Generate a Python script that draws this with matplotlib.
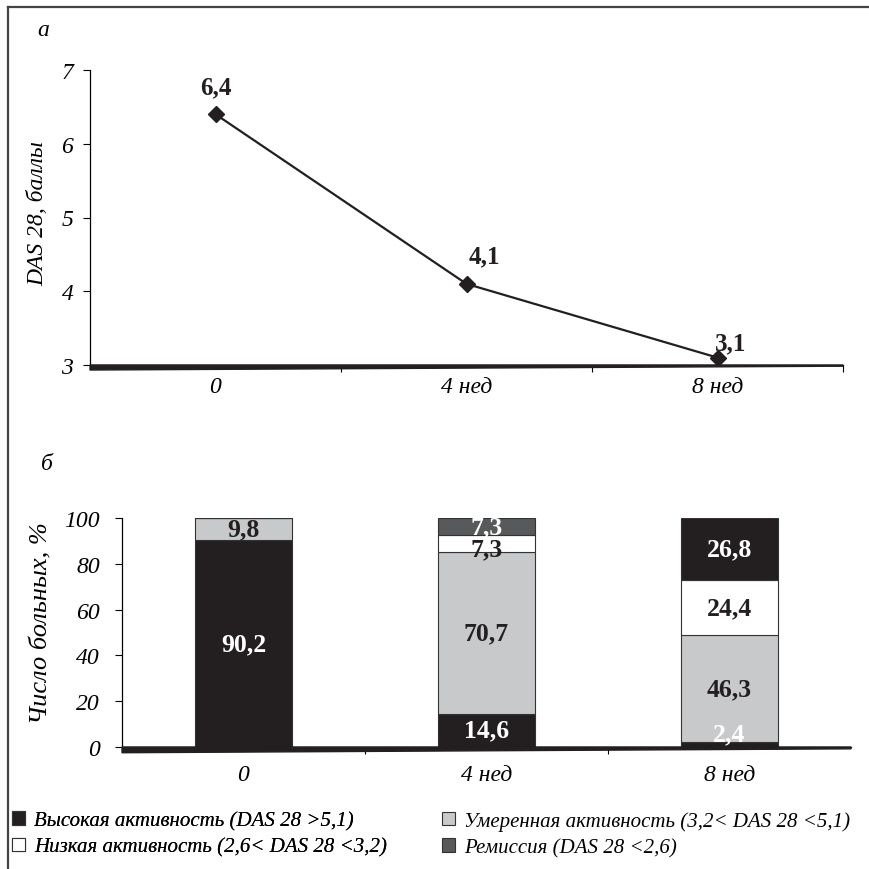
import matplotlib
matplotlib.use("Agg")
import matplotlib.pyplot as plt
from matplotlib.patches import Patch
from matplotlib.lines import Line2D

# ---- data ----
weeks = ["0", "4 нед", "8 нед"]
das_values = [6.4, 4.1, 3.1]
das_labels = ["6,4", "4,1", "3,1"]

high = [90.2, 14.6, 2.4]
moderate = [9.8, 70.7, 46.3]
low = [0.0, 7.3, 24.4]
remission = [0.0, 7.3, 26.8]

legend_labels = [
    "Высокая активность (DAS 28 >5,1)",
    "Умеренная активность (3,2< DAS 28 <5,1)",
    "Низкая активность (2,6< DAS 28 <3,2)",
    "Ремиссия (DAS 28 <2,6)",
]

BLACK = "#231f20"
GRAY = "#c8c9cb"
WHITE = "#ffffff"
DGRAY = "#58595b"
FONT = "Liberation Serif"

plt.rcParams["font.family"] = [FONT, "DejaVu Serif"]

fig = plt.figure(figsize=(8.69, 8.70), dpi=100)
W, H = 869, 870

def ax_rect(l, t, r, b):
    return [l / W, 1 - b / H, (r - l) / W, (b - t) / H]

# border lines (top and left)
fig.add_artist(Line2D([8 / W, 1.0], [1 - 8 / H, 1 - 8 / H], color="#444444", lw=1.6))
fig.add_artist(Line2D([8 / W, 8 / W], [1 - 8 / H, 0.0], color="#444444", lw=1.6))

TICK_FS = 17

# ---------- panel a ----------
ax1 = fig.add_axes(ax_rect(90, 71, 843, 366))
x = list(range(len(weeks)))
ax1.plot(x, das_values, color=BLACK, lw=1.6, marker="D", markersize=8,
         markerfacecolor=BLACK, markeredgecolor=BLACK, zorder=3)
offsets = [(0, 27), (18, 28), (13, 15)]
for xi, v, lab, off in zip(x, das_values, das_labels, offsets):
    ax1.annotate(lab, (xi, v), xytext=off, textcoords="offset pixels",
                 ha="center", va="center", fontsize=18, fontweight="bold",
                 color=BLACK, family=FONT)
ax1.set_xlim(-0.5, 2.5)
ax1.set_ylim(3, 7)
ax1.set_yticks([3, 4, 5, 6, 7])
ax1.set_xticks(x)
ax1.set_xticklabels(weeks)
ax1.set_xticks([0.5, 1.5, 2.5], minor=True)
ax1.tick_params(axis="x", which="major", length=0, pad=8)
ax1.tick_params(axis="x", which="minor", length=5, width=0.8, direction="out")
ax1.tick_params(axis="y", length=5, width=0.8, direction="out", pad=7)
for lab in ax1.get_xticklabels() + ax1.get_yticklabels():
    lab.set_fontsize(TICK_FS)
    lab.set_fontstyle("italic")
for s in ["top", "right"]:
    ax1.spines[s].set_visible(False)
ax1.spines["left"].set_linewidth(0.9)
ax1.spines["bottom"].set_linewidth(0.9)
ax1.fill([0, 1, 1, 0], [0, 0, -0.004, -0.017], color=BLACK,
         transform=ax1.transAxes, clip_on=False, zorder=4)
ax1.set_ylabel("DAS 28, баллы", fontsize=17, fontstyle="italic")
ax1.yaxis.set_label_coords(-0.055, 0.517)
fig.text(43 / W, 1 - 30 / H, "а", fontsize=17, fontstyle="italic",
         ha="center", va="center")

# ---------- panel b ----------
ax2 = fig.add_axes(ax_rect(122, 519, 851, 748))
bw = 0.40
bottom = [0.0, 0.0, 0.0]
rem_colors = [DGRAY, DGRAY, BLACK]
series = [(high, [BLACK] * 3), (moderate, [GRAY] * 3), (low, [WHITE] * 3),
          (remission, rem_colors)]
bottoms = []
for vals, cols in series:
    ax2.bar(x, vals, bw, bottom=bottom, color=cols, edgecolor="#333333",
            linewidth=0.8, zorder=2)
    bottoms.append(list(bottom))
    bottom = [b + v for b, v in zip(bottom, vals)]

# value labels: (series index, bar index, text, colour, y offset)
label_specs = [
    (0, 0, "90,2", "white", 0), (1, 0, "9,8", BLACK, 0),
    (0, 1, "14,6", "white", 0), (1, 1, "70,7", BLACK, 0),
    (2, 1, "7,3", BLACK, -2.5), (3, 1, "7,3", "white", 0),
    (0, 2, "2,4", "white", 4.5), (1, 2, "46,3", BLACK, 0),
    (2, 2, "24,4", BLACK, 0), (3, 2, "26,8", "white", 0),
]
all_vals = [high, moderate, low, remission]
for si, bi, txt, col, dy in label_specs:
    yc = bottoms[si][bi] + all_vals[si][bi] / 2 + dy
    ax2.text(bi, yc, txt, ha="center", va="center", fontsize=18.5,
             fontweight="bold", color=col, zorder=5)

ax2.set_xlim(-0.5, 2.5)
ax2.set_ylim(0, 100)
ax2.set_yticks([0, 20, 40, 60, 80, 100])
ax2.set_xticks(x)
ax2.set_xticklabels(weeks)
ax2.set_xticks([0.5, 1.5], minor=True)
ax2.tick_params(axis="x", which="major", length=0, pad=12)
ax2.tick_params(axis="x", which="minor", length=5, width=0.8, direction="out")
ax2.tick_params(axis="y", length=5, width=0.8, direction="out", pad=11)
for lab in ax2.get_xticklabels() + ax2.get_yticklabels():
    lab.set_fontsize(TICK_FS)
    lab.set_fontstyle("italic")
for s in ["top", "right"]:
    ax2.spines[s].set_visible(False)
ax2.spines["left"].set_linewidth(0.9)
ax2.spines["bottom"].set_linewidth(0.9)
ax2.fill([0, 1, 1, 0], [0, 0, -0.008, -0.025], color=BLACK,
         transform=ax2.transAxes, clip_on=False, zorder=4)
ax2.set_ylabel("Число больных, %", fontsize=19, fontstyle="italic")
ax2.yaxis.set_label_coords(-0.095, 0.546)
fig.text(47 / W, 1 - 465 / H, "б", fontsize=17, fontstyle="italic",
         ha="center", va="center")

# ---------- legend (two columns placed separately) ----------
colors = [BLACK, GRAY, WHITE, DGRAY]
handles = [Patch(facecolor=c, edgecolor="#333333", linewidth=0.8) for c in colors]
leg_kw = dict(loc="upper left", frameon=False, handlelength=0.6,
              handleheight=0.6, handletextpad=0.45, labelspacing=0.35,
              borderaxespad=0, borderpad=0,
              prop={"family": FONT, "style": "italic", "size": 15})
leg1 = fig.legend([handles[0], handles[2]], [legend_labels[0], legend_labels[2]],
                  bbox_to_anchor=(12 / W, 1 - 812 / H), **leg_kw)
fig.add_artist(leg1)
leg2 = fig.legend([handles[1], handles[3]], [legend_labels[1], legend_labels[3]],
                  bbox_to_anchor=(442 / W, 1 - 812 / H), **leg_kw)

fig.savefig("out.png", dpi=100)
